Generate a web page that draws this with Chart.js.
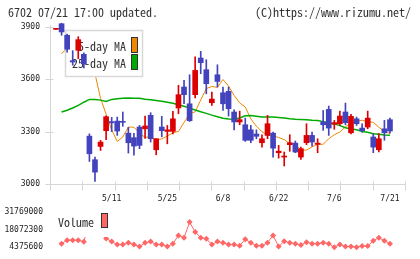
<!DOCTYPE html>
<html>
<head>
<meta charset="utf-8">
<script src="https://cdn.jsdelivr.net/npm/chart.js@4.4.1/dist/chart.umd.min.js"></script>
<style>
    body { margin: 0; background: #fff; width: 420px; height: 259px; overflow: hidden; position: relative; }
    .txt { position: absolute; font: 12px 'Noto Sans Mono CJK JP', 'DejaVu Sans Mono', monospace; color: #333; line-height: 12px; white-space: pre; z-index: 2; }
    #title { left: 8px; top: 6px; }
    #copy { left: 255px; top: 6px; }
    canvas { position: absolute; left: 0; }
    #price { top: 0; }
    #volume { top: 200px; }
</style>
</head>
<body>
<div class="txt" id="title">6702 07/21 17:00 updated.</div>
<div class="txt" id="copy">(C)https://www.rizumu.net/</div>
<canvas id="price" width="420" height="205"></canvas>
<canvas id="volume" width="420" height="59"></canvas>
<script>
    const priceTicks = [3000, 3300, 3600, 3900];
    const dateTicks = [10, 20, 30, 40, 50, 60];
    const dateLabels = ['5/11', '5/25', '6/8', '6/22', '7/6', '7/21'];
    const volumeTicks = [4375600, 18072300, 31769000];

    const opens = [3885, 3917, 3851, 3706, 3765, 3742, 3274, 3139, 3215, 3305,
        3357, 3360, 3357, 3291, 3265, 3326, 3316, 3393, 3196, 3326,
        3301, 3301, 3435, 3555, 3459, 3511, 3721, 3654, 3465, 3625,
        3522, 3530, 3412, 3355, 3339, 3310, 3286, 3236, 3278, 3291,
        3179, 3154, 3225, 3234, 3154, 3236, 3278, 3227, 3355, 3427,
        3342, 3345, 3412, 3293, 3373, 3320, 3326, 3269, 3196, 3316, 3368];
    const highs = [3885, 3920, 3858, 3763, 3843, 3751, 3287, 3154, 3250, 3390,
        3381, 3383, 3412, 3324, 3290, 3335, 3389, 3408, 3259, 3387,
        3335, 3416, 3565, 3593, 3625, 3727, 3759, 3711, 3526, 3682,
        3555, 3555, 3425, 3417, 3377, 3335, 3310, 3282, 3393, 3297,
        3221, 3183, 3282, 3246, 3211, 3345, 3297, 3259, 3421, 3446,
        3364, 3417, 3463, 3398, 3383, 3345, 3417, 3288, 3288, 3364, 3377];
    const lows = [3885, 3851, 3755, 3680, 3717, 3664, 3129, 3015, 3192, 3253,
        3300, 3278, 3330, 3177, 3165, 3202, 3261, 3240, 3167, 3270,
        3230, 3287, 3402, 3459, 3358, 3492, 3631, 3516, 3450, 3555,
        3421, 3389, 3310, 3339, 3244, 3236, 3259, 3211, 3259, 3154,
        3148, 3103, 3187, 3179, 3141, 3225, 3217, 3179, 3307, 3278,
        3313, 3335, 3339, 3287, 3335, 3297, 3316, 3179, 3183, 3250, 3291];
    const closes = [3885, 3870, 3771, 3698, 3826, 3688, 3173, 3068, 3240, 3385,
        3350, 3303, 3353, 3236, 3217, 3221, 3332, 3259, 3259, 3305,
        3310, 3373, 3511, 3511, 3362, 3650, 3694, 3574, 3486, 3587,
        3459, 3431, 3355, 3368, 3250, 3250, 3273, 3259, 3345, 3205,
        3188, 3160, 3236, 3183, 3202, 3278, 3240, 3234, 3339, 3320,
        3351, 3389, 3351, 3387, 3345, 3305, 3377, 3211, 3259, 3293, 3303];
    const ma5 = [null, 3745, 3780, 3800, 3815, 3810, 3771, 3631, 3491, 3399,
        3311, 3243, 3269, 3326, 3325, 3292, 3266, 3272, 3253, 3258,
        3275, 3293, 3301, 3352, 3402, 3413, 3481, 3546, 3558, 3553,
        3598, 3560, 3507, 3464, 3440, 3373, 3331, 3299, 3280, 3275,
        3266, 3254, 3231, 3227, 3194, 3194, 3212, 3228, 3227, 3259,
        3282, 3297, 3327, 3350, 3360, 3365, 3355, 3353, 3325, 3299, 3289];
    const ma25 = [null, 3412, 3422, 3435, 3450, 3468, 3484, 3484, 3480, 3472,
        3484, 3488, 3490, 3492, 3491, 3490, 3485, 3482, 3478, 3473,
        3468, 3462, 3454, 3445, 3434, 3423, 3413, 3404, 3394, 3385,
        3376, 3372, 3371, 3378, 3390, 3392, 3388, 3384, 3383, 3383,
        3381, 3378, 3373, 3370, 3369, 3368, 3365, 3363, 3357, 3350,
        3344, 3334, 3322, 3315, 3310, 3300, 3296, 3288, 3284, 3281, 3279];
    const volumes = [null, 7100000, 9850000, 9850000, 9850000, 8500000, 25000000, 31769000, 16000000, 11200000,
        8700000, 6400000, 6400000, 7800000, 6400000, 4850000, 7800000, 8700000, 6400000, 6400000,
        4850000, 7100000, 13500000, 11700000, 23800000, 16200000, 11700000, 11000000, 6400000, 8700000,
        7800000, 6400000, 6400000, 5500000, 10500000, 7800000, 5500000, 5500000, 7800000, 13500000,
        4850000, 9000000, 7800000, 7100000, 6000000, 8300000, 7100000, 7100000, 7800000, 7100000,
        4375600, 6400000, 4850000, 4850000, 4400000, 5300000, 5300000, 9400000, 11700000, 9400000, 7100000];

    const UP = '#dd0000';
    const DOWN = '#4343bd';
    const X_MIN = -1.08;
    const X_MAX = 62.7;
    const BIG_FONT = "12px 'Noto Sans Mono CJK JP', 'DejaVu Sans Mono', monospace";

    Chart.defaults.font.family = "'DejaVu Sans Mono', monospace";
    Chart.defaults.font.size = 8;
    Chart.defaults.color = '#222';

    function candleColor(ctx) {
        const i = ctx.dataIndex;
        return closes[i] >= opens[i] ? UP : DOWN;
    }

    function points(values) {
        return values.map(function (v, i) { return { x: i, y: v }; });
    }

    // axis lines and the little crossing tick marks
    const axisMarks = {
        id: 'axisMarks',
        beforeDatasetsDraw(chart) {
            const ctx = chart.ctx;
            const a = chart.chartArea;
            const x0 = Math.round(a.left) + 0.5;
            const y0 = Math.round(a.bottom) + 0.5;
            ctx.save();
            ctx.strokeStyle = '#d6d6d6';
            ctx.lineWidth = 1;
            ctx.beginPath();
            ctx.moveTo(x0, a.top + 3);
            ctx.lineTo(x0, y0 + 3);
            ctx.moveTo(x0 - 4, y0);
            ctx.lineTo(a.right + 0.5, y0);
            priceTicks.forEach(function (v) {
                const y = Math.round(chart.scales.y.getPixelForValue(v)) + 0.5;
                ctx.moveTo(x0 - 5, y);
                ctx.lineTo(x0 + 3, y);
            });
            for (let k = 0; k <= 11; k++) {
                const x = Math.round(a.left + k * a.width / 11) + 0.5;
                ctx.moveTo(x, y0 - 3);
                ctx.lineTo(x, y0 + 6);
            }
            ctx.stroke();
            ctx.restore();
        }
    };

    // legend box: drawn over the MA lines but under the candles
    const priceLegend = {
        id: 'priceLegend',
        beforeDatasetsDraw(chart) { chart.$legendDone = false; },
        beforeDatasetDraw(chart, args) {
            if (chart.$legendDone || args.meta.type !== 'bar') {
                return;
            }
            chart.$legendDone = true;
            const ctx = chart.ctx;
            ctx.save();
            ctx.fillStyle = '#fff';
            ctx.fillRect(65, 30, 78, 47);
            ctx.strokeStyle = '#d8d8d8';
            ctx.lineWidth = 1.5;
            ctx.strokeRect(65.5, 30.5, 77, 46);
            ctx.font = BIG_FONT;
            ctx.fillStyle = '#333';
            ctx.textAlign = 'right';
            ctx.textBaseline = 'middle';
            ctx.fillText('5-day MA', 126, 46);
            ctx.fillText('25-day MA', 126, 63);
            ctx.lineWidth = 1;
            ctx.strokeStyle = '#333';
            ctx.fillStyle = '#ee8800';
            ctx.fillRect(131, 37, 6, 16);
            ctx.strokeRect(131.5, 37.5, 6, 15);
            ctx.fillStyle = '#00aa00';
            ctx.fillRect(131, 54, 6, 16);
            ctx.strokeRect(131.5, 54.5, 6, 15);
            ctx.restore();
        }
    };

    const volumeLegend = {
        id: 'volumeLegend',
        afterDatasetsDraw(chart) {
            const ctx = chart.ctx;
            ctx.save();
            ctx.fillStyle = '#fff';
            ctx.fillRect(55, 6, 56, 31);
            ctx.font = BIG_FONT;
            ctx.fillStyle = '#333';
            ctx.textAlign = 'left';
            ctx.textBaseline = 'middle';
            ctx.fillText('Volume', 58, 22);
            ctx.fillStyle = '#ff6666';
            ctx.fillRect(101, 13, 7, 15);
            ctx.strokeStyle = '#333';
            ctx.lineWidth = 1;
            ctx.strokeRect(101.5, 13.5, 6, 14);
            ctx.restore();
        }
    };

    const idx = opens.map(function (_, i) { return i; });

    new Chart(document.getElementById('price'), {
        type: 'bar',
        data: {
            datasets: [
                {
                    type: 'line', label: '25-day MA', data: points(ma25),
                    borderColor: '#00aa00', borderWidth: 1.5, pointRadius: 0, order: 2
                },
                {
                    type: 'line', label: '5-day MA', data: points(ma5),
                    borderColor: '#ee8800', borderWidth: 1, pointRadius: 0, order: 2
                },
                {
                    label: 'wick', data: idx.map(function (i) { return { x: i, y: [lows[i], highs[i]] }; }),
                    backgroundColor: candleColor, barThickness: 1, grouped: false, order: 1
                },
                {
                    label: 'body', data: idx.map(function (i) { return { x: i, y: [opens[i], closes[i]] }; }),
                    backgroundColor: candleColor, barThickness: 5, minBarLength: 1, grouped: false, order: 0
                }
            ]
        },
        options: {
            responsive: false,
            animation: false,
            devicePixelRatio: 1,
            events: [],
            layout: { padding: { top: 22, right: 15, left: 0, bottom: 0 } },
            plugins: { legend: { display: false }, tooltip: { enabled: false } },
            scales: {
                x: {
                    type: 'linear', min: X_MIN, max: X_MAX, offset: false,
                    grid: { display: false, drawTicks: false }, border: { display: false },
                    afterBuildTicks: function (s) { s.ticks = dateTicks.map(function (v) { return { value: v }; }); },
                    afterFit: function (s) { s.height = 21; },
                    ticks: {
                        padding: 10, maxRotation: 0, autoSkip: false,
                        callback: function (v) { return dateLabels[dateTicks.indexOf(v)]; }
                    }
                },
                y: {
                    min: 3000, max: 3927,
                    grid: { display: false, drawTicks: false }, border: { display: false },
                    afterBuildTicks: function (s) { s.ticks = priceTicks.map(function (v) { return { value: v }; }); },
                    afterFit: function (s) { s.width = 50; },
                    ticks: { padding: 10, callback: function (v) { return String(v); } }
                }
            }
        },
        plugins: [axisMarks, priceLegend]
    });

    new Chart(document.getElementById('volume'), {
        type: 'line',
        data: {
            datasets: [{
                label: 'Volume', data: points(volumes),
                borderColor: '#ff6666', backgroundColor: '#ff6666', borderWidth: 1,
                pointStyle: 'rectRot', pointRadius: 3, pointBorderWidth: 0, clip: false
            }]
        },
        options: {
            responsive: false,
            animation: false,
            devicePixelRatio: 1,
            events: [],
            layout: { padding: { top: 9, right: 15, left: 0, bottom: 10 } },
            plugins: { legend: { display: false }, tooltip: { enabled: false } },
            scales: {
                x: { type: 'linear', min: X_MIN, max: X_MAX, display: false },
                y: {
                    min: volumeTicks[0], max: volumeTicks[2],
                    grid: { display: false, drawTicks: false }, border: { display: false },
                    afterBuildTicks: function (s) { s.ticks = volumeTicks.map(function (v) { return { value: v }; }); },
                    afterFit: function (s) { s.width = 50; },
                    ticks: { padding: 7, callback: function (v) { return String(v); } }
                }
            }
        },
        plugins: [volumeLegend]
    });
</script>
</body>
</html>
